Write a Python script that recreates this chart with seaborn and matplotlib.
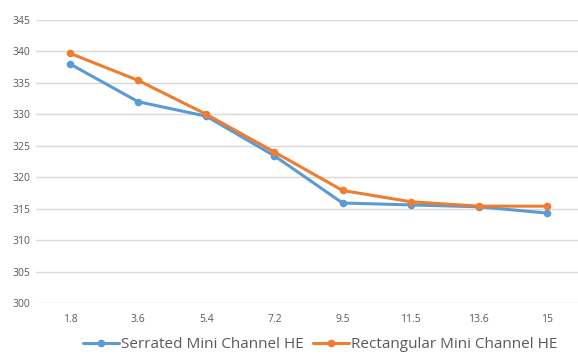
import matplotlib
matplotlib.use("Agg")
import matplotlib.pyplot as plt
import seaborn as sns
import pandas as pd

categories = ["1.8", "3.6", "5.4", "7.2", "9.5", "11.5", "13.6", "15"]
serrated = [338.0, 332.0, 329.7, 323.4, 315.9, 315.6, 315.3, 314.3]
rectangular = [339.7, 335.4, 330.0, 324.0, 317.9, 316.1, 315.4, 315.4]
series_names = ["Serrated Mini Channel HE", "Rectangular Mini Channel HE"]
y_ticks = [300, 305, 310, 315, 320, 325, 330, 335, 340, 345]

df = pd.DataFrame({
    "x": categories * 2,
    "y": serrated + rectangular,
    "series": [series_names[0]] * len(categories) + [series_names[1]] * len(categories),
})

sns.set_theme(style="white")
plt.rcParams["font.family"] = ["Open Sans", "DejaVu Sans"]

fig = plt.figure(figsize=(5.78, 3.56), dpi=100)
ax = fig.add_axes([36 / 578, 53 / 356, 545 / 578, 283 / 356])

palette = {series_names[0]: "#5B9BD5", series_names[1]: "#ED7D31"}
sns.lineplot(data=df, x="x", y="y", hue="series", palette=palette, ax=ax,
             marker="o", markersize=5.5, markeredgewidth=0, linewidth=2.2,
             sort=False, legend=True)

ax.set_xlim(-0.5, 7.5)
ax.set_ylim(300, 345)
ax.set_yticks(y_ticks)
ax.yaxis.grid(True, color="#D9D9D9", linewidth=1)
ax.xaxis.grid(False)
ax.set_axisbelow(True)
for s in ax.spines.values():
    s.set_visible(False)
ax.set_xlabel("")
ax.set_ylabel("")
ax.tick_params(axis="both", length=0, labelsize=7.5, colors="#595959", pad=8)
ax.tick_params(axis="y", pad=4)

handles, labels = ax.get_legend_handles_labels()
ax.legend(handles, labels, loc="lower center", bbox_to_anchor=(0.521, -0.195),
          ncol=2, frameon=False, fontsize=11, labelcolor="#595959",
          handlelength=2.4, handletextpad=0.1, columnspacing=0.6, borderaxespad=0)

fig.savefig("out.png", dpi=100)
